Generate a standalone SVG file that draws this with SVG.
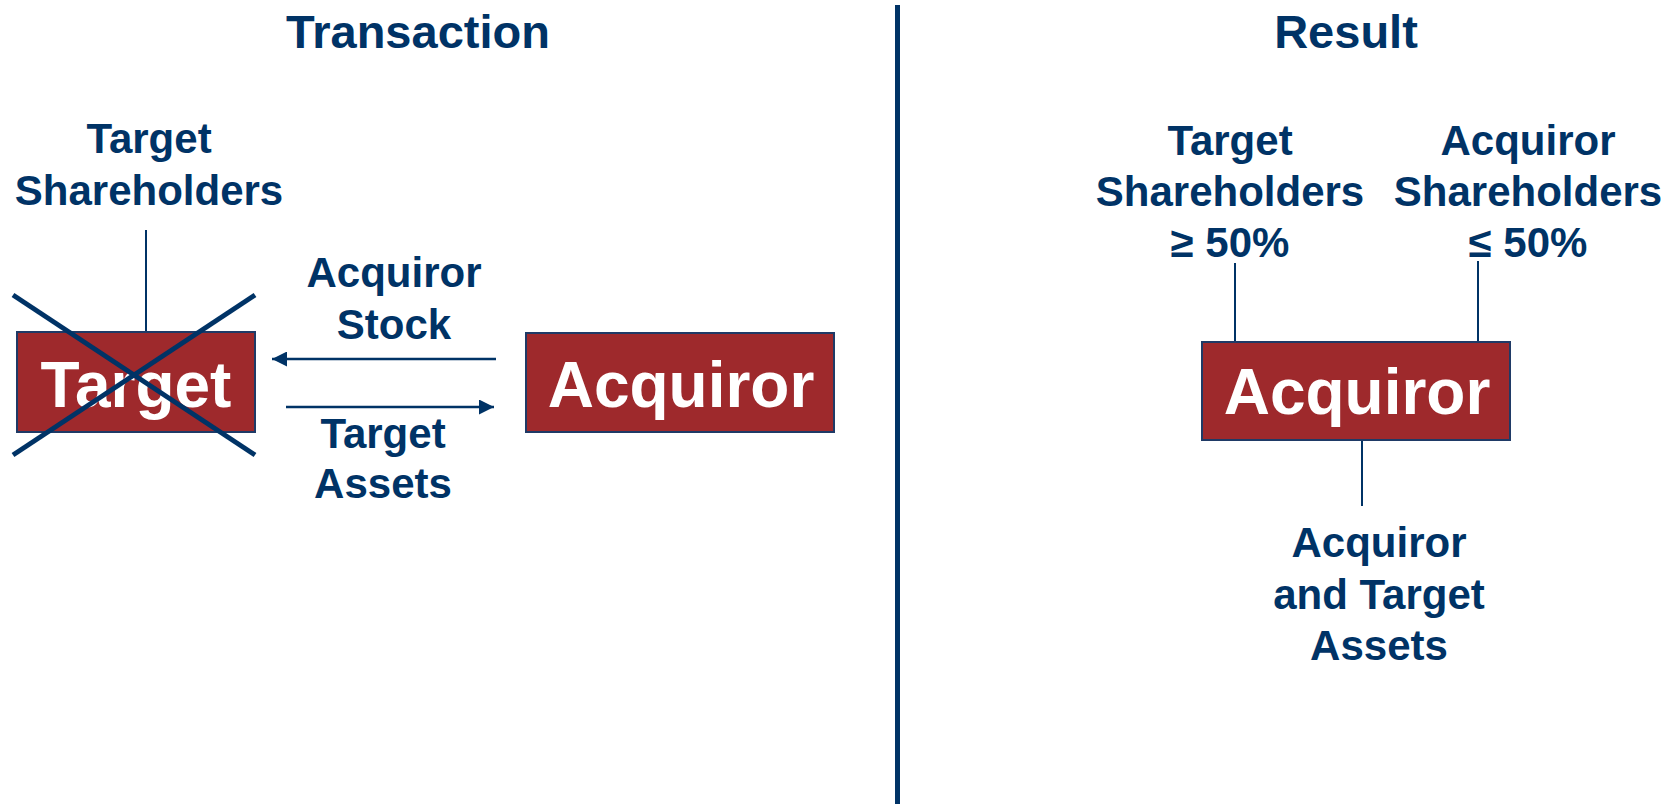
<svg xmlns="http://www.w3.org/2000/svg" width="1674" height="804" viewBox="0 0 1674 804">
  <style>
    .title { font-family: "Liberation Sans", Arial, sans-serif; font-weight: bold; font-size: 47px; fill: #003366; text-anchor: middle; }
    .label { font-family: "Liberation Sans", Arial, sans-serif; font-weight: bold; font-size: 42px; fill: #003366; text-anchor: middle; }
    .box { fill: #9e292c; stroke: #1f3a66; stroke-width: 2; }
    .boxtext { font-family: "Liberation Sans", Arial, sans-serif; font-weight: bold; font-size: 64px; fill: #ffffff; text-anchor: middle; }
    .link { stroke: #003366; stroke-width: 2; fill: none; }
    .flow { stroke: #003366; stroke-width: 2.5; fill: none; marker-end: url(#head); }
  </style>
  <defs>
    <marker id="head" viewBox="0 0 10 10" refX="10" refY="5" markerWidth="16" markerHeight="15" markerUnits="userSpaceOnUse" orient="auto">
      <path d="M0,0 L10,5 L0,10 Z" fill="#003366"/>
    </marker>
  </defs>
  <rect width="1674" height="804" fill="#ffffff"/>

  <!-- section titles and divider -->
  <text class="title" x="418" y="48">Transaction</text>
  <text class="title" x="1346" y="48">Result</text>
  <rect x="895" y="5" width="5" height="799" fill="#003366"/>

  <!-- connectors -->
  <g id="connectors">
    <line class="link" x1="146" y1="230" x2="146" y2="343"/>
    <line class="flow" x1="496" y1="359" x2="272" y2="359"/>
    <line class="flow" x1="286" y1="407" x2="494" y2="407"/>
    <line class="link" x1="1235" y1="263" x2="1235" y2="342"/>
    <line class="link" x1="1478" y1="261" x2="1478" y2="342"/>
    <line class="link" x1="1362" y1="440" x2="1362" y2="506"/>
  </g>

  <!-- transaction side -->
  <g id="target-shareholders">
    <text class="label" x="149" y="153">Target</text>
    <text class="label" x="149" y="205">Shareholders</text>
  </g>
  <g id="target">
    <rect class="box" x="17" y="332" width="238" height="100"/>
    <text class="boxtext" x="136" y="407">Target</text>
    <line x1="13" y1="295" x2="255" y2="455" stroke="#003366" stroke-width="5"/>
    <line x1="13" y1="455" x2="255" y2="295" stroke="#003366" stroke-width="5"/>
  </g>
  <g id="acquiror-stock">
    <text class="label" x="394" y="287">Acquiror</text>
    <text class="label" x="394" y="339">Stock</text>
  </g>
  <g id="target-assets">
    <text class="label" x="383" y="448">Target</text>
    <text class="label" x="383" y="498">Assets</text>
  </g>
  <g id="acquiror-left">
    <rect class="box" x="526" y="333" width="308" height="99"/>
    <text class="boxtext" x="681" y="407">Acquiror</text>
  </g>

  <!-- result side -->
  <g id="result-target-shareholders">
    <text class="label" x="1230" y="155">Target</text>
    <text class="label" x="1230" y="206">Shareholders</text>
    <text class="label" x="1230" y="257">≥ 50%</text>
  </g>
  <g id="result-acquiror-shareholders">
    <text class="label" x="1528" y="155">Acquiror</text>
    <text class="label" x="1528" y="206">Shareholders</text>
    <text class="label" x="1528" y="257">≤ 50%</text>
  </g>
  <g id="acquiror-right">
    <rect class="box" x="1202" y="342" width="308" height="98"/>
    <text class="boxtext" x="1357" y="414">Acquiror</text>
  </g>
  <g id="combined-assets">
    <text class="label" x="1379" y="557">Acquiror</text>
    <text class="label" x="1379" y="609">and Target</text>
    <text class="label" x="1379" y="660">Assets</text>
  </g>
</svg>
